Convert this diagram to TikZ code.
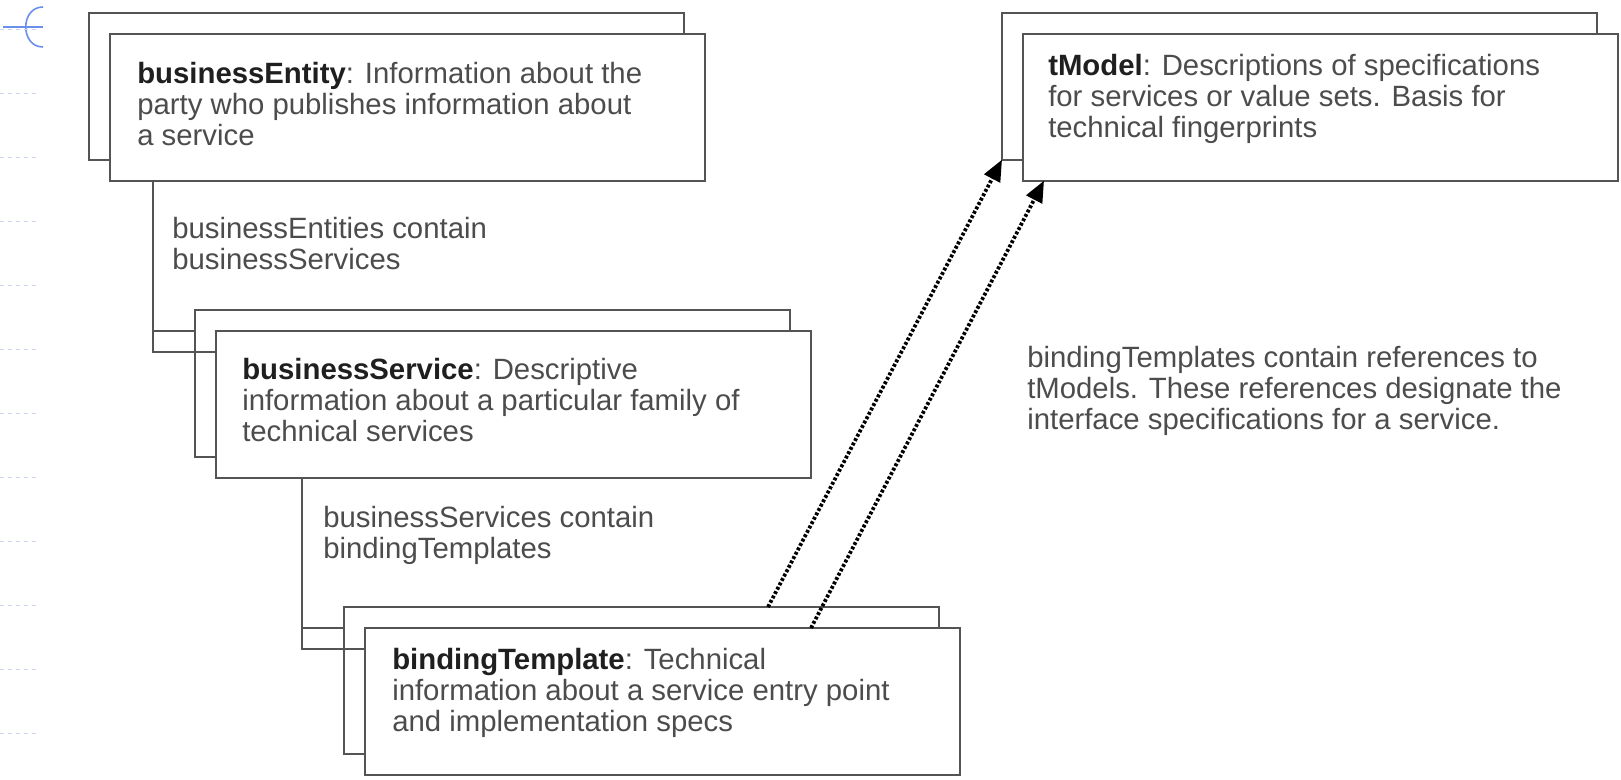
\documentclass[tikz,border=0pt]{standalone}
\usepackage{fontspec}
\setmainfont{Liberation Sans}
\definecolor{BoxLine}{rgb}{0.33,0.33,0.33}
\definecolor{TextGray}{rgb}{0.30,0.30,0.30}
\definecolor{TitleInk}{rgb}{0.12,0.12,0.12}
\definecolor{MarkBlue}{rgb}{0.42,0.56,0.93}
\definecolor{GuideBlue}{rgb}{0.80,0.84,0.94}
\usetikzlibrary{arrows.meta,positioning,calc}

\begin{document}
\begin{tikzpicture}[
        x=0.75pt, y=-0.75pt,
        >={Triangle[length=16pt,width=13pt]},
        backbox/.style={draw=BoxLine, line width=1.5pt, anchor=north west, minimum width=446pt,
                        minimum height=110pt, outer sep=0pt, inner sep=0pt},
        box/.style={backbox, fill=white},
        txt/.style={anchor=north west, inner sep=0pt, align=left, text=TextGray,
                    font=\fontsize{22}{23.25}\selectfont},
        lab/.style={txt},
        link/.style={draw=BoxLine, line width=1.5pt},
        refarrow/.style={->, line width=2.8pt, dash pattern=on 2.2pt off 1.5pt}
    ]
        \fill[white] (0,0) rectangle (1621,780);
        \useasboundingbox (0,0) rectangle (1621,780);

        \draw[MarkBlue, line width=1.2pt] (3,27) -- (43,27);
        \draw[MarkBlue, line width=1.2pt] (43,7) .. controls (20,7) and (20,47) .. (43,47);
        \foreach \yy in {29,93,...,733}
            \draw[GuideBlue, dashed, line width=0.5pt] (0,\yy) -- (40,\yy);

        \node[backbox] (beback) at (89,13) {};
        \node[box] (be) at (110,34) {};
        \node[txt] (betxt) at (137,62) {{\color{TitleInk}\textbf{businessEntity}}: Information about the\\party who publishes information about\\a service};

        \node[backbox] (bsback) at (195,310) {};
        \node[box] (bs) at (216,331) {};
        \node[txt] (bstxt) at (242,358) {{\color{TitleInk}\textbf{businessService}}: Descriptive\\information about a particular family of\\technical services};

        \node[backbox] (btback) at (344,607) {};
        \node[box] (bt) at (365,628) {};
        \node[txt] (bttxt) at (392,648) {{\color{TitleInk}\textbf{bindingTemplate}}: Technical\\information about a service entry point\\and implementation specs};

        \node[backbox] (tmback) at (1002,13) {};
        \node[box] (tm) at (1023,34) {};
        \node[txt] (tmtxt) at (1048,54) {{\color{TitleInk}\textbf{tModel}}: Descriptions of specifications\\for services or value sets. Basis for\\technical fingerprints};

        \node[lab] (contains1) at (172,217) {businessEntities contain\\businessServices};
        \node[lab] (contains2) at (323,506) {businessServices contain\\bindingTemplates};
        \node[lab] (refnote) at (1027,346) {bindingTemplates contain references to\\tModels. These references designate the\\interface specifications for a service.};

        \coordinate (j1) at (153,352);
        \draw[link] (j1 |- be.south) -- (j1) -- (j1 -| bs.west);
        \draw[link] (j1 |- bs.north) -- (bs.north -| bsback.west);

        \coordinate (j2) at (302,649);
        \draw[link] (j2 |- bs.south) -- (j2) -- (j2 -| bt.west);
        \draw[link] (j2 |- bt.north) -- (bt.north -| btback.west);

        \draw[refarrow] ($(btback.north west)+(424,0)$) -- (tmback.south west);
        \draw[refarrow] ($(bt.north west)+(446,0)$) -- ($(tm.south west)+(21,0)$);
    \end{tikzpicture}
\end{document}
